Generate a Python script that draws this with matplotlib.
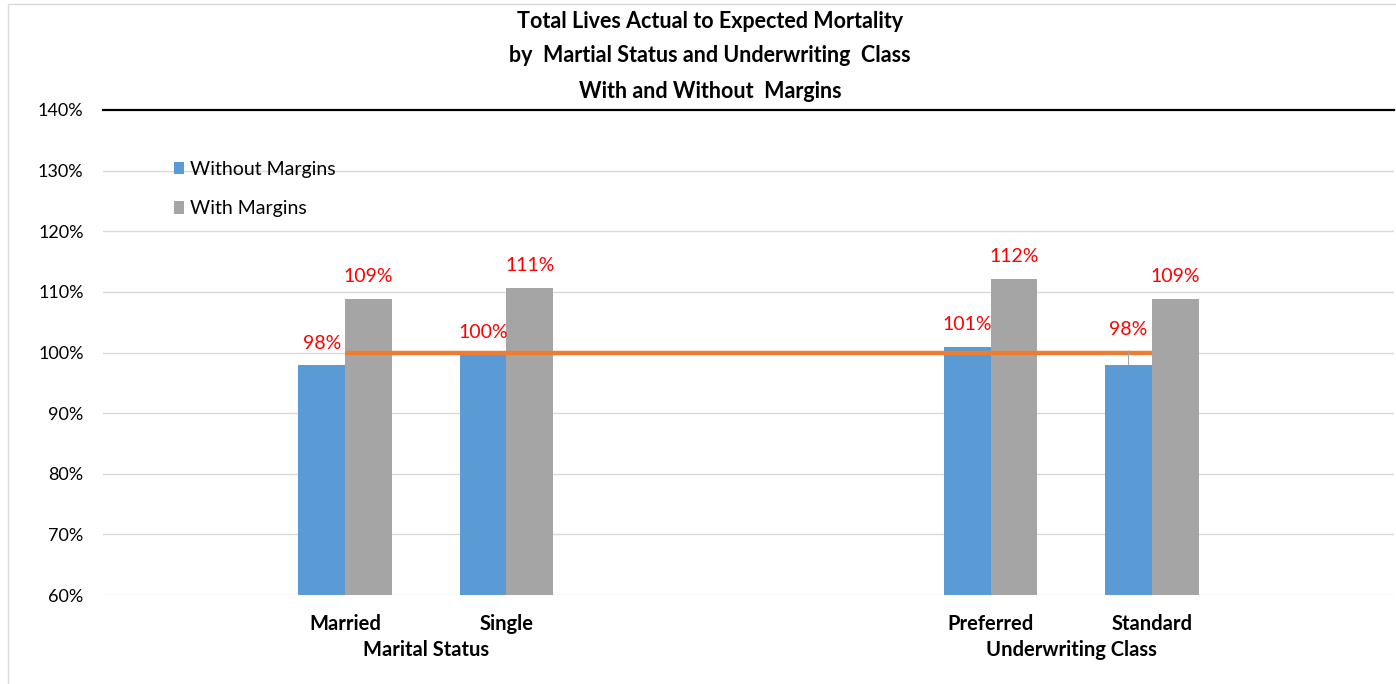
import matplotlib
matplotlib.use("Agg")
import matplotlib.pyplot as plt
from matplotlib.patches import Rectangle
from matplotlib import font_manager

# --- data ---------------------------------------------------------------
categories = ["Married", "Single", "Preferred", "Standard"]
groups = ["Marital Status", "Underwriting Class"]
without_margins = [98.0, 99.6, 100.9, 98.0]
with_margins = [108.8, 110.7, 112.2, 108.8]
expected = [100, 100, 100, 100]
series_names = ["Without Margins", "With Margins"]
title_lines = [
    "Total Lives Actual to Expected Mortality",
    "by  Martial Status and Underwriting  Class",
    "With and Without  Margins",
]
y_ticks = [60, 70, 80, 90, 100, 110, 120, 130, 140]

# --- fonts --------------------------------------------------------------
available = {f.name for f in font_manager.fontManager.ttflist}
plain = "Lato" if "Lato" in available else "DejaVu Sans"

BLUE = "#5B9BD5"
GRAY = "#A5A5A5"
ORANGE = "#ED7D31"
GRID = "#D9D9D9"

W, H = 1396, 684
fig = plt.figure(figsize=(W / 100, H / 100), dpi=100)
fig.patch.set_facecolor("white")

# outer chart frame
fig.patches.append(Rectangle((8 / W, -0.1), 1.2, 1.1 - 4 / H,
                             transform=fig.transFigure, fill=False,
                             edgecolor=GRID, linewidth=1.0))

ax = fig.add_axes([103 / W, 1 - 595 / H, (1394 - 103) / W, (595 - 110) / H])

# eight category slots: two empty slots between the groups and one at each end
slots = [1, 2, 5, 6]
bw = 0.29

b1 = ax.bar([s - bw / 2 for s in slots], without_margins, width=bw,
            color=BLUE, zorder=2, label=series_names[0])
b2 = ax.bar([s + bw / 2 for s in slots], with_margins, width=bw,
            color=GRAY, zorder=2, label=series_names[1])
ax.plot(slots, expected, color=ORANGE, linewidth=3.2, zorder=3,
        solid_capstyle="butt")

ax.set_xlim(-0.5, 7.5)
ax.set_ylim(60, 140)
ax.set_yticks(y_ticks)
ax.set_yticklabels([f"{t}%" for t in y_ticks], fontfamily=plain, fontsize=13)
ax.tick_params(axis="y", length=0, pad=14)
ax.set_xticks(slots)
ax.set_xticklabels(categories, fontfamily=plain, fontweight="bold", fontsize=14.5)
ax.tick_params(axis="x", length=0, pad=14)

for t in y_ticks[:-1]:
    ax.axhline(t, color=GRID, linewidth=1.0, zorder=1)
for side in ["left", "right", "bottom"]:
    ax.spines[side].set_visible(False)
ax.spines["top"].set_color("black")
ax.spines["top"].set_linewidth(1.6)

# group labels under the category labels
for name, (a, b) in zip(groups, [(slots[0], slots[1]), (slots[2], slots[3])]):
    ax.text((a + b) / 2, -0.114, name, transform=ax.get_xaxis_transform(),
            ha="center", va="center", fontfamily=plain, fontweight="bold",
            fontsize=14.5)

# data labels
blue_offsets = [15, 16, 16, 25]
for s, v, off in zip(slots, without_margins, blue_offsets):
    kw = {}
    if off > 20:
        kw["arrowprops"] = dict(arrowstyle="-", color="#A6A6A6", lw=0.8,
                                shrinkA=7, shrinkB=0)
    ax.annotate(f"{v:.0f}%", xy=(s - bw / 2, v), xytext=(0, off),
                textcoords="offset points", ha="center", va="center",
                color="red", fontfamily=plain, fontsize=14, zorder=4, **kw)
for s, v in zip(slots, with_margins):
    ax.annotate(f"{v:.0f}%", xy=(s + bw / 2, v), xytext=(0, 16),
                textcoords="offset points", ha="center", va="center",
                color="red", fontfamily=plain, fontsize=14, zorder=4)

# legend
leg = ax.legend(handles=[b1, b2], loc="upper left",
                bbox_to_anchor=(174 / W, 1 - 161 / H),
                bbox_transform=fig.transFigure, frameon=False,
                prop={"family": plain, "size": 14},
                handlelength=0.5, handleheight=0.62, handletextpad=0.3,
                labelspacing=1.15, borderpad=0, borderaxespad=0)

# title
for i, line in enumerate(title_lines):
    fig.text(710 / W, 1 - (21 + 35 * i) / H, line, ha="center", va="center",
             fontfamily=plain, fontweight="bold", fontsize=15.5)

fig.savefig("out.png", dpi=100, facecolor="white")
